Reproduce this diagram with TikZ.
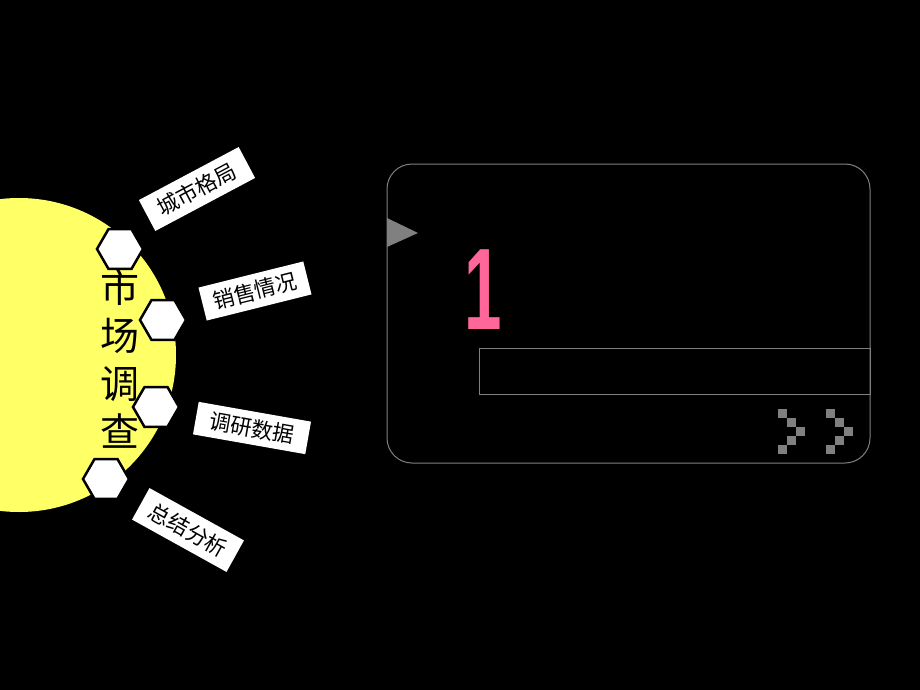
\documentclass[tikz,border=0pt]{standalone}
\usepackage{fontspec}
\setmainfont{Noto Sans CJK SC}
\newfontfamily\numfont{Liberation Sans}
\usetikzlibrary{shapes.geometric,positioning}
\definecolor{sunyellow}{HTML}{FFFF66}
\definecolor{framegray}{HTML}{808080}
\definecolor{numpink}{HTML}{FF6699}

\begin{document}
\begin{tikzpicture}[x=1pt,y=-1pt,
	hexnode/.style={regular polygon,regular polygon sides=6,draw=black,line width=2.5pt,fill=white,minimum size=46pt,inner sep=0pt},
	tagbox/.style={rectangle,fill=white,text=black,font=\fontsize{21.5}{21.5}\selectfont,minimum width=110pt,minimum height=35pt,inner sep=0pt},
	pixel/.style={fill=framegray},
	frameline/.style={draw=framegray,line width=1pt}]
		\useasboundingbox (0,0) rectangle (920,690);
		\fill[black] (0,0) rectangle (920,690);
		% sun on the left edge
		\begin{scope}
			\clip (0,0) rectangle (920,690);
			\fill[sunyellow] (19,355) circle (157);
		\end{scope}
		\node[text=black,align=center,font=\fontsize{39}{48}\selectfont] (title) at (120,359) {市\\场\\调\\查};
		\node[hexnode] (h1) at (120,249) {};
		\node[hexnode] (h2) at (163,320) {};
		\node[hexnode] (h3) at (156,407) {};
		\node[hexnode] (h4) at (106,479) {};
		\node[tagbox,rotate=28,minimum width=113pt] (t1) at (197,189) {城市格局};
		\node[tagbox,rotate=14,minimum width=108pt,minimum height=34pt] (t2) at (255,291) {销售情况};
		\node[tagbox,rotate=-10,minimum width=114pt,minimum height=33pt] (t3) at (252,428) {调研数据};
		\node[tagbox,rotate=-29,minimum width=108pt,minimum height=36pt] (t4) at (188,530) {总结分析};
		% panel on the right
		\draw[frameline,rounded corners=25pt] (387,164) rectangle (870,463);
		\fill[framegray] (387,218) -- (418,233) -- (387,247) -- cycle;
		\node[text=numpink,font=\numfont\bfseries\fontsize{116}{116}\selectfont,inner sep=0pt,xscale=0.58] (num) at (483,290) {1};
		\draw[frameline] (479,348) rectangle (870,394);
		\foreach \dx in {0,48}
			\foreach \i/\j in {0/0,1/1,2/2,1/3,0/4}
				\fill[pixel] (778+\dx+9*\i,409+9*\j) rectangle ++(9,9);
	\end{tikzpicture}
\end{document}
